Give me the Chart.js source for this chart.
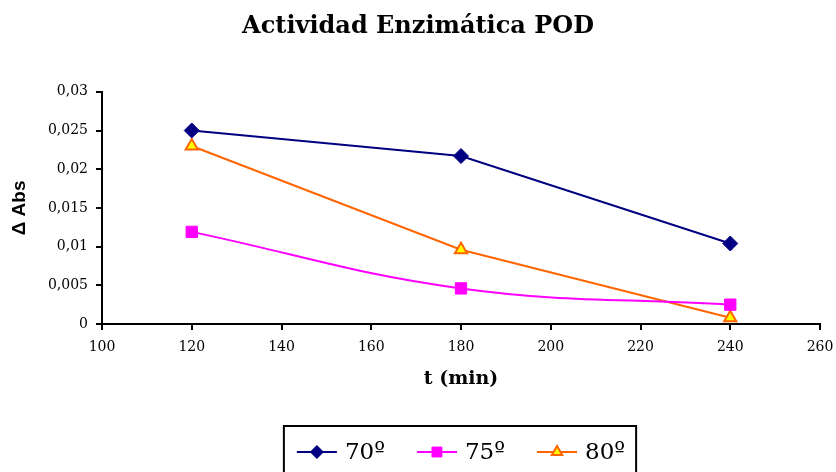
<!DOCTYPE html>
<html>
<head>
<meta charset="utf-8">
<script src="https://cdn.jsdelivr.net/npm/chart.js@4"></script>
<style>
  html, body { margin: 0; padding: 0; background: #fff; }
  #wrap { width: 836px; height: 472px; position: relative; }
</style>
</head>
<body>
<div id="wrap"><canvas id="chart"></canvas></div>
<script>
// data
const times = [120, 180, 240];
const abs70 = [0.0250, 0.0217, 0.0104];
const abs75 = [0.0119, 0.0046, 0.0025];
const abs80 = [0.0230, 0.0096, 0.0008];
const seriesLabels = ["70º", "75º", "80º"];

const SERIF = "'DejaVu Serif', serif";

const toPoints = (ys) => times.map((t, i) => ({ x: t, y: ys[i] }));

function drawMarker(ctx, ds, x, y, r) {
    ctx.save();
    ctx.fillStyle = ds.pointBackgroundColor;
    ctx.strokeStyle = ds.pointBorderColor;
    ctx.lineWidth = ds.pointBorderWidth;
    Chart.helpers.drawPoint(ctx, {
        pointStyle: ds.pointStyle,
        radius: r,
        borderWidth: ds.pointBorderWidth,
        rotation: 0,
    }, x, y);
    ctx.restore();
}

// legend drawn as a framed box below the axis, line + marker per entry
const boxLegend = {
    id: "boxLegend",
    afterDraw(chart) {
        const ctx = chart.ctx;
        const area = chart.chartArea;
        const lineLen = 40;
        const gap = 8;
        const itemGap = 32;
        ctx.save();
        ctx.font = "23px " + SERIF;
        const items = chart.data.datasets.map((ds) => ({
            ds,
            w: lineLen + gap + ctx.measureText(ds.label).width,
        }));
        const total = items.reduce((s, it) => s + it.w, 0) + itemGap * (items.length - 1);
        const cx = (area.left + area.right) / 2;
        let x = cx - total / 2;
        const y = 452;
        ctx.strokeStyle = "#000";
        ctx.lineWidth = 2;
        ctx.strokeRect(cx - total / 2 - 13, 426, total + 24, 60);
        for (const it of items) {
            const ds = it.ds;
            ctx.strokeStyle = ds.borderColor;
            ctx.lineWidth = 2;
            ctx.beginPath();
            ctx.moveTo(x, y);
            ctx.lineTo(x + lineLen, y);
            ctx.stroke();
            drawMarker(ctx, ds, x + lineLen / 2, y, ds.pointRadius - 1);
            ctx.fillStyle = "#000";
            ctx.textBaseline = "middle";
            ctx.textAlign = "left";
            ctx.fillText(ds.label, x + lineLen + gap, y + 1);
            x += it.w + itemGap;
        }
        ctx.restore();
    },
};

new Chart(document.getElementById("chart"), {
    type: "line",
    data: {
        datasets: [
            {
                label: seriesLabels[0],
                data: toPoints(abs70),
                borderColor: "#000080",
                borderWidth: 2,
                pointStyle: "rectRot",
                pointRadius: 7.5,
                pointBackgroundColor: "#000080",
                pointBorderColor: "#000080",
                pointBorderWidth: 1,
                tension: 0,
            },
            {
                label: seriesLabels[1],
                data: toPoints(abs75),
                borderColor: "#FF00FF",
                borderWidth: 2,
                pointStyle: "rect",
                pointRadius: 8,
                pointBackgroundColor: "#FF00FF",
                pointBorderColor: "#FF00FF",
                pointBorderWidth: 1,
                tension: 0.4,
            },
            {
                label: seriesLabels[2],
                data: toPoints(abs80),
                borderColor: "#FF6600",
                borderWidth: 2,
                pointStyle: "triangle",
                pointRadius: 7,
                pointBackgroundColor: "#FFFF00",
                pointBorderColor: "#FF6600",
                pointBorderWidth: 2,
                tension: 0,
            },
        ],
    },
    options: {
        responsive: true,
        maintainAspectRatio: false,
        animation: false,
        layout: { padding: { top: 0, right: 0, bottom: 78, left: 0 } },
        plugins: {
            legend: { display: false },
            tooltip: { enabled: false },
            title: {
                display: true,
                text: "Actividad Enzimática POD",
                color: "#000",
                font: { family: SERIF, size: 24, weight: "bold", lineHeight: 1.2 },
                padding: { top: 12, bottom: 51 },
            },
        },
        scales: {
            x: {
                type: "linear",
                min: 100,
                max: 260,
                ticks: { stepSize: 20, color: "#000", font: { family: SERIF, size: 14 }, padding: 9 },
                grid: { drawOnChartArea: false, drawTicks: true, tickLength: 6, color: "#000", lineWidth: 2 },
                border: { color: "#000", width: 2 },
                title: {
                    display: true,
                    text: "t (min)",
                    color: "#000",
                    font: { family: SERIF, size: 19, weight: "bold" },
                    padding: { top: 12 },
                },
                afterFit(scale) {
                    scale.height = 70;
                    scale.paddingRight = 16;
                },
            },
            y: {
                min: 0,
                max: 0.03,
                ticks: {
                    stepSize: 0.005,
                    color: "#000",
                    font: { family: SERIF, size: 14 },
                    padding: 8,
                    callback: (v) => String(Math.round(v * 1000) / 1000).replace(".", ","),
                },
                grid: { drawOnChartArea: false, drawTicks: true, tickLength: 6, color: "#000", lineWidth: 2 },
                border: { color: "#000", width: 2 },
                title: {
                    display: true,
                    text: "Δ Abs",
                    color: "#000",
                    font: { family: "'Liberation Sans', Arial, sans-serif", size: 19, weight: "bold" },
                    padding: { top: 8, bottom: 0 },
                },
                afterFit(scale) { scale.width = 102; },
            },
        },
    },
    plugins: [boxLegend],
});
</script>
</body>
</html>
